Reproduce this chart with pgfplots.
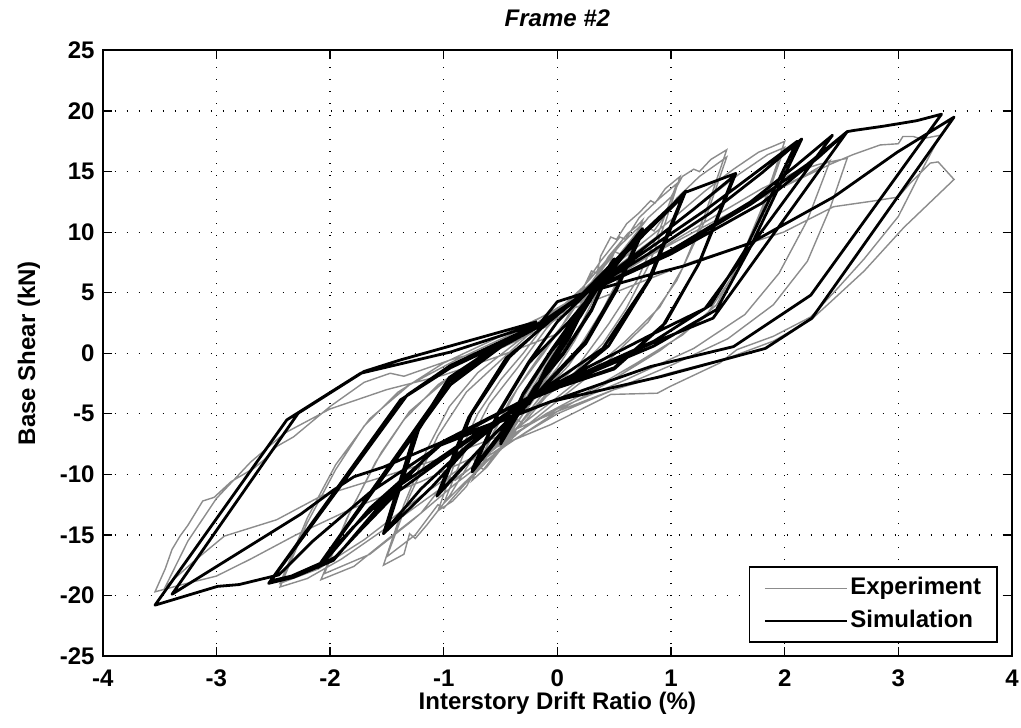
\documentclass[border=0pt]{standalone}
\usepackage{fontspec}
\setmainfont{Liberation Sans}
\usepackage{pgfplots}
\pgfplotsset{compat=1.18}
\begin{document}
\begin{tikzpicture}[font=\bfseries\fontsize{12}{14}\selectfont]
\begin{axis}[
 name=ax,
 scale only axis,
 width=454.65pt, height=302.75pt,
 xmin=-4, xmax=4, ymin=-25, ymax=25,
 xtick={-4,-3,-2,-1,0,1,2,3,4}, xticklabels={-4,-3,-2,-1,0,1,2,3,4},
 ytick={-25,-20,-15,-10,-5,0,5,10,15,20,25}, yticklabels={-25,-20,-15,-10,-5,0,5,10,15,20,25},
 tick align=inside, tick pos=both, major tick length=4.5pt,
 tick style={black, line width=0.6pt},
 axis line style={black, line width=1pt},
 grid=major, major grid style={black, line width=0.6pt, dash pattern=on 0.6pt off 5.4pt},
 xticklabel style={anchor=base, yshift=-15pt, inner sep=0pt},
 yticklabel style={anchor=east, xshift=-3.9pt, inner sep=0pt},
 xlabel={Interstory Drift Ratio (\%)},
 ylabel={Base Shear (kN)},
 every axis x label/.style={at={(axis description cs:0.5,0)}, anchor=base, yshift=-26.6pt, inner sep=0pt},
 every axis y label/.style={at={(axis description cs:-0.0812,0.5)}, anchor=center, rotate=90, inner sep=0pt},
 title={\itshape Frame \#2},
 every axis title/.style={at={(axis description cs:0.5,1)}, anchor=base, yshift=12pt, inner sep=0pt},
 legend style={at={(1,0)}, anchor=south east, xshift=-7pt, yshift=6.5pt, draw=black, line width=0.9pt, fill=white, inner xsep=7pt, inner ysep=3.8pt, row sep=2.8pt, nodes={inner sep=1pt, text height=9pt, text depth=2.5pt}, /tikz/every even column/.append style={column sep=2pt}},
 legend cell align=left,
 legend image code/.code={\draw[#1] (0pt,0pt) -- (41pt,0pt);},
]
% Experiment
\addplot[color=black!45, line width=0.7pt] coordinates {
(0,0)
(0.05,1.2)(0.12,2.4)(0.18,3.5)(0.25,4.6)(0.18,3.0)(0.08,1.0)(-0.05,-1.2)(-0.15,-2.8)(-0.25,-4.3)(-0.15,-2.4)(-0.05,-0.6)(0.08,1.4)(0.18,3.2)(0.25,4.5)(0.15,2.4)(0.02,0.2)(-0.12,-2.2)(-0.25,-4.2)(-0.12,-1.8)(0.0,0.4)
(0.12,2.6)(0.22,4.3)(0.3,5.5)(0.38,6.8)(0.45,7.6)(0.5,8.5)(0.42,6.2)(0.3,3.6)(0.15,1.0)(0.0,-1.2)(-0.12,-2.6)(-0.25,-4.4)(-0.35,-5.6)(-0.42,-6.9)(-0.5,-8.0)(-0.4,-5.9)(-0.28,-3.4)(-0.12,-1.0)(0.02,1.2)(0.15,3.0)(0.28,5.0)(0.4,7.0)(0.5,8.3)(0.38,5.6)(0.22,2.6)(0.05,0.0)(-0.12,-2.4)(-0.3,-5.0)(-0.5,-7.8)(-0.35,-4.8)(-0.15,-1.8)(0.0,0.6)
(0.12,2.4)(0.25,4.6)(0.35,6.4)(0.45,8.0)(0.55,9.1)(0.62,9.9)(0.7,10.5)(0.75,11.0)(0.62,7.8)(0.45,4.4)(0.28,1.5)(0.1,-1.0)(-0.08,-2.8)(-0.25,-4.8)(-0.4,-6.8)(-0.52,-8.2)(-0.62,-9.4)(-0.75,-10.5)(-0.6,-7.2)(-0.42,-3.9)(-0.25,-1.5)(-0.08,0.8)(0.1,3.0)(0.25,5.2)(0.4,7.2)(0.55,8.9)(0.75,10.7)(0.6,7.3)(0.4,3.6)(0.2,0.6)(0.0,-1.8)(-0.2,-4.2)(-0.45,-7.3)(-0.75,-10.2)(-0.55,-6.4)(-0.35,-2.9)(-0.12,0.0)
(0.05,2.4)(0.2,4.8)(0.3,6.8)(0.35,6.6)(0.38,8.0)(0.47,9.6)(0.52,9.4)(0.61,10.7)(0.72,11.6)(0.82,12.6)(0.86,12.4)(0.95,13.6)(1.08,14.6)(0.95,10.8)(0.8,7.2)(0.6,3.6)(0.4,0.8)(0.15,-1.6)(-0.1,-3.6)(-0.3,-5.8)(-0.35,-5.5)(-0.5,-7.8)(-0.65,-9.6)(-0.7,-9.3)(-0.8,-11.0)(-0.92,-12.2)(-1.05,-13.0)(-0.9,-9.0)(-0.7,-5.0)(-0.5,-2.2)(-0.3,0.0)(-0.06,3.0)(0.23,5.5)(0.38,7.6)(0.55,9.6)(0.6,9.4)(0.72,11.2)(0.9,12.8)(1.05,14.0)(0.9,10.2)(0.7,6.0)(0.45,2.4)(0.2,-0.8)(-0.1,-3.4)(-0.4,-6.6)(-0.45,-6.4)(-0.7,-9.6)(-1.0,-12.4)(-0.82,-8.2)(-0.6,-4.2)(-0.35,-1.2)
(-0.1,2.0)(0.2,5.2)(0.5,8.4)(0.55,8.2)(0.8,11.2)(1.0,12.9)(1.1,14.6)(1.2,15.2)(1.25,15.0)(1.35,16.0)(1.49,16.8)(1.3,11.5)(1.1,7.0)(0.9,3.8)(0.6,1.0)(0.3,-1.4)(-0.05,-4.0)(-0.4,-6.5)(-0.7,-9.0)(-0.75,-8.7)(-0.95,-11.8)(-1.15,-14.2)(-1.25,-15.3)(-1.3,-14.9)(-1.35,-16.6)(-1.53,-17.5)(-1.35,-12.5)(-1.15,-8.0)(-0.95,-4.4)(-0.7,-1.6)(-0.4,0.6)(-0.1,2.8)(0.2,5.0)(0.5,7.6)(0.8,10.4)(0.85,10.1)(1.05,12.8)(1.25,14.6)(1.49,16.2)(1.3,11.0)(1.05,6.0)(0.8,2.6)(0.45,-0.6)(0.1,-3.2)(-0.3,-6.2)(-0.7,-9.6)(-1.0,-12.8)(-1.05,-12.5)(-1.25,-15.0)(-1.5,-16.8)(-1.3,-11.8)(-1.05,-6.8)(-0.8,-3.2)(-0.5,-0.6)
(-0.2,2.0)(0.2,5.0)(0.6,8.0)(1.0,11.0)(1.3,13.4)(1.55,15.2)(1.77,16.6)(1.9,17.1)(2.0,17.5)(1.8,12.0)(1.6,7.5)(1.4,4.0)(1.1,1.5)(0.7,-0.8)(0.3,-3.0)(-0.1,-5.0)(-0.5,-7.5)(-0.9,-10.5)(-0.95,-10.2)(-1.2,-13.2)(-1.5,-15.4)(-1.79,-17.6)(-2.08,-18.7)(-1.85,-13.6)(-1.6,-9.0)(-1.35,-5.5)(-1.05,-2.6)(-0.7,-0.4)(-0.3,1.8)(0.1,4.2)(0.5,7.0)(0.9,9.8)(1.3,12.6)(1.6,14.8)(1.85,16.4)(2.0,17.0)(1.78,11.2)(1.55,6.5)(1.3,3.0)(0.9,0.2)(0.45,-2.4)(0.0,-4.8)(-0.45,-7.6)(-0.9,-10.8)(-1.3,-14.0)(-1.65,-16.6)(-2.05,-18.2)(-1.82,-13.0)(-1.55,-8.2)(-1.3,-4.8)(-0.95,-2.0)(-0.5,0.4)
(-0.1,2.2)(0.4,5.6)(0.9,8.6)(1.4,11.4)(1.8,13.6)(2.1,15.0)(2.3,15.6)(2.55,16.1)(2.4,12.0)(2.2,7.6)(1.9,4.0)(1.5,1.2)(1.0,-1.0)(0.5,-3.0)(0.0,-5.0)(-0.5,-7.8)(-1.0,-11.0)(-1.5,-14.4)(-1.9,-17.0)(-2.2,-18.6)(-2.44,-19.3)(-2.2,-14.0)(-1.95,-9.6)(-1.7,-6.0)(-1.4,-3.2)(-1.0,-0.8)(-0.5,1.4)(0.0,3.6)(0.5,6.0)(1.0,8.6)(1.5,11.2)(1.9,13.4)(2.2,14.8)(2.40,15.9)(2.2,11.0)(1.95,6.6)(1.65,3.2)(1.2,0.4)(0.6,-2.2)(0.0,-4.6)(-0.6,-7.8)(-1.2,-11.8)(-1.7,-15.4)(-2.1,-17.8)(-2.44,-19.0)(-2.2,-13.6)(-1.95,-9.2)(-1.65,-5.4)(-1.3,-2.6)(-0.9,-0.6)
(-0.4,1.6)(0.2,4.8)(0.8,8.0)(1.4,11.0)(2.0,13.8)(2.4,15.6)(2.6,16.4)(2.84,17.2)(3.0,17.3)(3.04,17.9)(3.13,17.9)(3.2,17.7)(3.37,18.0)(3.2,15.0)(3.0,11.3)(2.7,7.8)(2.45,5.2)(2.23,3.0)(1.9,1.4)(1.58,0.3)(1.43,-0.8)(0.99,-2.75)(0.88,-3.3)(0.47,-3.4)(0.11,-5.1)(-0.06,-5.9)(-0.6,-8.0)(-1.2,-10.6)(-1.8,-12.8)(-2.3,-15.0)(-2.7,-17.0)(-3.0,-18.4)(-3.3,-19.1)(-3.54,-19.7)
(-3.45,-17.8)(-3.39,-16.2)(-3.32,-15.1)(-3.25,-14.2)(-3.12,-12.2)(-3.02,-11.9)(-2.87,-10.6)(-2.67,-9.5)(-2.58,-8.8)(-2.47,-7.7)(-2.32,-6.9)(-2.0,-4.4)(-1.7,-2.4)(-1.47,-1.65)(-1.35,-1.9)(-0.94,-0.55)(-0.5,0.6)(-0.06,3.0)(0.5,5.0)(1.2,7.6)(1.99,10.0)(2.43,12.1)(2.8,12.6)(3.0,12.9)(3.1,14.0)(3.28,15.7)(3.35,15.8)(3.49,14.35)
(3.05,10.4)(2.7,6.8)(2.4,4.2)(2.23,2.75)(1.9,1.0)(1.5,-0.4)(1.0,-1.6)(0.5,-3.0)(0.0,-4.8)(-0.5,-6.8)(-1.0,-8.6)(-1.6,-10.4)(-2.08,-11.8)(-2.47,-13.75)(-2.93,-15.1)(-3.2,-17.2)(-3.45,-19.3)
(-3.25,-15.5)(-3.0,-12.0)(-2.7,-9.0)(-2.4,-6.6)(-2.0,-4.6)(-1.5,-3.0)(-1.0,-1.8)(-0.5,-0.2)(0.0,1.6)
};
\addlegendentry{Experiment}
% Simulation
\addplot[color=black, line width=1.4pt, line join=round] coordinates {
(0,0)(0.25,4.0)(0.10,1.2)(-0.10,-1.6)(-0.25,-4.2)(-0.10,-1.2)(0.10,1.6)(0.25,4.1)(0.10,1.2)(-0.10,-1.6)(-0.25,-4.1)(-0.10,-1.2)(0.05,1.0)
(0.25,4.3)(0.50,7.8)(0.30,3.6)(0.05,0.0)(-0.20,-2.8)(-0.50,-7.5)(-0.30,-3.4)(-0.05,0.2)(0.20,3.0)(0.50,7.6)(0.30,3.5)(0.05,-0.1)(-0.20,-2.9)(-0.50,-7.3)(-0.30,-3.3)(-0.05,0.3)
(0.20,3.6)(0.45,6.8)(0.75,10.3)(0.52,5.4)(0.25,1.0)(-0.10,-2.5)(-0.45,-6.2)(-0.75,-9.8)(-0.52,-5.0)(-0.25,-0.8)(0.10,2.6)(0.45,6.5)(0.75,10.0)(0.52,5.2)(0.25,0.8)(-0.10,-2.6)(-0.45,-6.0)(-0.75,-9.6)(-0.52,-4.9)(-0.25,-0.7)
(0.00,2.6)(0.25,4.9)(0.70,9.2)(1.13,13.4)(0.82,6.2)(0.45,0.6)(0.00,-2.9)(-0.24,-3.8)(-0.65,-7.6)(-1.06,-11.8)(-0.78,-5.3)(-0.45,-0.4)(-0.06,2.7)(0.23,4.9)(0.65,8.8)(1.10,12.9)(0.80,6.0)(0.40,0.4)(-0.24,-3.7)(-0.62,-7.3)(-1.03,-11.4)(-0.76,-5.1)(-0.42,-0.3)
(-0.06,2.8)(0.23,5.0)(0.70,9.5)(1.13,13.3)(1.57,14.85)(1.25,7.5)(0.95,2.5)(0.50,-1.2)(-0.24,-3.6)(-0.80,-7.9)(-1.10,-11.0)(-1.53,-14.9)(-1.25,-6.5)(-0.95,-2.0)(-0.50,0.8)(-0.06,2.7)(0.23,4.9)(0.75,8.6)(1.20,11.9)(1.55,14.6)(1.24,7.3)(0.93,2.3)(0.50,-1.3)(-0.24,-3.6)(-0.80,-7.7)(-1.20,-11.2)(-1.50,-14.5)(-1.22,-6.3)(-0.92,-1.9)(-0.48,0.9)
(-0.06,2.7)(0.23,4.9)(0.80,8.6)(1.30,11.8)(1.70,14.6)(2.11,17.5)(1.65,8.5)(1.35,4.0)(0.85,1.0)(-0.24,-3.6)(-0.90,-8.0)(-1.40,-11.4)(-1.73,-14.6)(-1.95,-16.8)(-2.11,-17.7)(-0.94,-2.6)(-0.50,0.5)(-0.06,2.7)(0.23,4.9)(0.80,8.2)(1.35,11.6)(1.80,14.9)(2.15,17.7)(1.70,8.8)(1.40,3.6)(0.85,0.6)(-0.24,-3.7)(-0.90,-7.8)(-1.45,-11.3)(-1.80,-14.4)(-2.09,-17.4)(-0.96,-2.4)(-0.50,0.6)
(-0.06,2.7)(0.23,4.9)(1.00,8.5)(1.70,12.5)(2.10,15.5)(2.42,18.0)(1.30,3.7)(0.82,1.5)(-0.24,-3.6)(-1.03,-7.4)(-1.60,-13.0)(-1.97,-17.1)(-2.32,-18.5)(-2.54,-19.0)(-1.38,-3.85)(-0.94,-1.2)(-0.06,2.7)(0.23,4.9)(1.00,8.4)(1.70,12.3)(2.20,15.6)(2.55,18.3)(1.37,2.9)(0.85,0.9)(-0.24,-3.6)(-1.03,-7.6)(-1.65,-12.8)(-2.05,-17.2)(-2.34,-18.4)(-2.52,-18.8)(-1.32,-3.44)(-0.94,-1.0)
(-0.15,2.5)(0.23,4.9)(1.00,8.2)(1.80,12.4)(2.30,16.2)(2.55,18.3)(2.61,18.4)(2.87,18.75)(3.16,19.2)(3.38,19.74)(2.23,4.8)(1.55,0.55)(0.82,-1.1)(-0.06,-4.0)(-1.03,-7.6)(-1.65,-11.5)(-2.15,-15.5)(-2.45,-18.3)(-2.80,-19.1)(-2.99,-19.25)(-3.54,-20.8)
(-2.38,-5.5)(-1.73,-1.65)(-0.94,0.1)(-0.15,2.5)(0.00,4.26)(0.23,4.95)(0.82,6.5)(1.11,7.2)(1.70,9.1)(2.43,12.9)(2.99,16.6)(3.49,19.5)
(2.24,2.9)(1.83,0.4)(0.91,-1.93)(-0.06,-4.0)(-1.03,-7.4)(-1.53,-9.4)(-1.79,-10.2)(-1.97,-11.3)(-2.26,-13.3)(-3.39,-19.9)
(-2.28,-4.95)(-1.70,-1.5)(-1.38,-0.55)(-0.18,2.6)
};
\addlegendentry{Simulation}
\end{axis}
\pgfresetboundingbox
\path ([xshift=-51.35pt,yshift=-35.5pt]ax.south west) rectangle ([xshift=4.5pt,yshift=25.25pt]ax.north east);
\end{tikzpicture}
\end{document}
